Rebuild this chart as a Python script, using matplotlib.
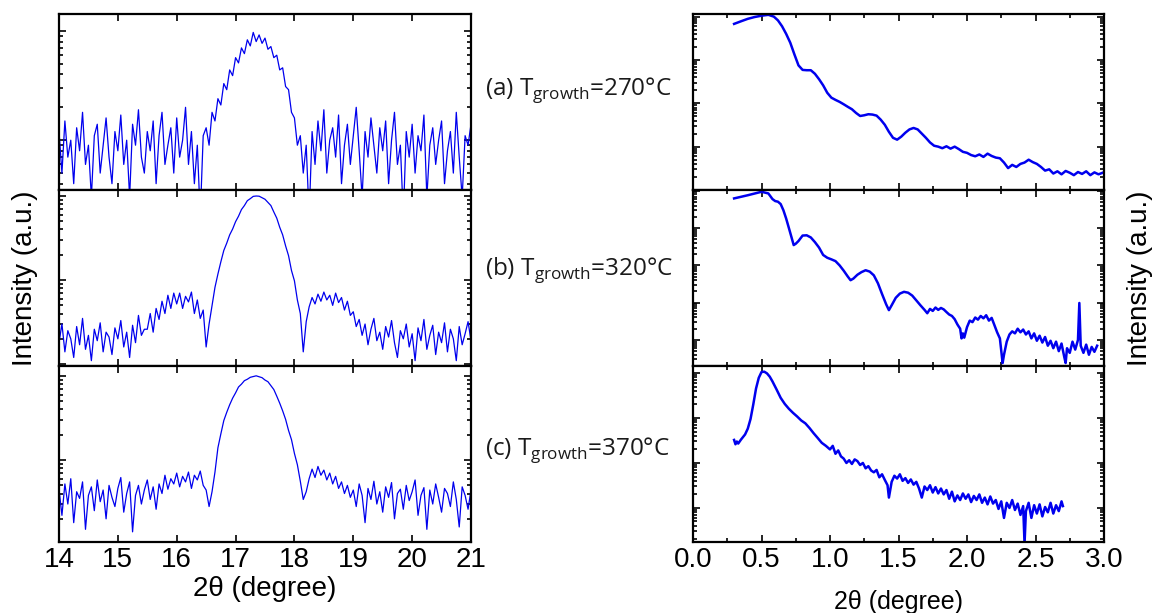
import numpy as np
import matplotlib
matplotlib.use("Agg")
import matplotlib.pyplot as plt
from matplotlib.ticker import LogLocator, NullFormatter, MultipleLocator

# ---- wide-angle scans (14-21 deg, step 0.05) ----
wide_a = [12, 5, 15, 7, 10, 4, 13, 8, 18, 6, 9, 3, 11, 14, 5, 9, 16, 7, 4, 12,
          8, 17, 6, 10, 3, 14, 9, 19, 7, 5, 12, 8, 15, 4, 11, 18, 6, 9, 13, 5,
          16, 7, 10, 20, 6, 12, 4, 9, 2, 11,
          13, 9, 18, 15, 24, 21, 33, 29, 44, 39,
          57, 51, 70, 62, 83, 73, 97, 80, 92, 77,
          86, 68, 72, 57, 60, 44, 46, 31, 29, 18,
          16, 9, 11, 5, 9, 2, 12, 6, 15, 8,
          19, 5, 10, 13, 7, 17, 4, 9, 14, 6, 11, 20, 8, 3, 12, 7, 16, 9, 5, 13,
          8, 15, 4, 10, 18, 6, 9, 2, 12, 7, 14, 5, 11, 8, 17, 3, 9, 13, 6, 10,
          15, 4, 8, 12, 5, 18, 7, 3, 11, 9, 14]

wide_b = [18, 30, 14, 25, 20, 12, 28, 17, 35, 15, 22, 11, 26, 19, 31, 14, 24, 21, 13, 27,
          20, 33, 16, 24, 12, 29, 18, 38, 22, 26,
          26, 40, 24, 46, 34, 56, 40, 66, 46, 70,
          52, 70, 46, 64, 55, 72, 40, 58, 35, 44,
          16, 30, 50, 82, 118, 165, 225, 275, 345, 405,
          495, 575, 690, 770, 880, 930, 990, 1000, 995, 955,
          915, 840, 770, 645, 545, 425, 345, 255, 195, 130,
          98, 58, 40, 14, 32, 48, 62, 52, 68, 56,
          72, 58, 66, 50, 70, 54, 62, 44, 56, 38,
          42, 28, 34, 22, 30, 17, 26, 35, 19, 24,
          15, 28, 21, 33, 18, 12, 25, 20, 30, 16, 23, 11, 27, 19, 34, 15, 22, 29, 13, 24,
          18, 31, 14, 26, 20, 11, 28, 17, 23, 32, 19]

wide_c = [45, 22, 52, 30, 60, 18, 42, 35, 55, 15, 38, 48, 25, 58, 32, 44, 20, 50, 36, 28,
          46, 62, 24, 40, 55, 14, 38, 50, 30, 44, 58, 34, 48, 26, 52, 40, 66, 45, 60, 52,
          70, 48, 64, 55, 72, 46, 66, 58, 74, 50,
          44, 28, 42, 72, 140, 205, 295, 370, 455, 545,
          630, 740, 800, 880, 915, 965, 985, 1005, 980, 955,
          895, 855, 770, 690, 575, 475, 385, 305, 225, 175,
          120, 88, 56, 34, 42, 60, 78, 62, 84, 66,
          76, 58, 70, 52, 64, 46, 55, 40, 50, 36,
          44, 28, 52, 38, 18, 46, 34, 56, 30, 42, 24, 48, 36, 54, 20, 40, 45, 26, 50, 33,
          42, 58, 22, 38, 47, 15, 44, 30, 52, 36, 24, 46, 40, 28, 55, 34, 16, 48, 38, 26, 44]

# ---- low-angle reflectivity scans ----
low_a_x = [0.30, 0.35, 0.40, 0.45, 0.50, 0.55, 0.59, 0.62, 0.65, 0.68, 0.71, 0.74, 0.77,
           0.80, 0.83, 0.86, 0.89, 0.92, 0.95, 0.98, 1.01, 1.04, 1.07, 1.10, 1.13, 1.16,
           1.19, 1.22, 1.25, 1.28, 1.31, 1.34, 1.37, 1.40, 1.43, 1.46, 1.49, 1.52, 1.55,
           1.58, 1.61, 1.64, 1.67, 1.70, 1.73, 1.76, 1.79, 1.82, 1.85, 1.88, 1.91, 1.94,
           1.97, 2.00, 2.03, 2.06, 2.09, 2.12, 2.15, 2.18, 2.21, 2.24, 2.27, 2.30, 2.33,
           2.36, 2.39, 2.42, 2.45, 2.48, 2.51, 2.54, 2.57, 2.60, 2.63, 2.66, 2.69, 2.72,
           2.75, 2.78, 2.81, 2.84, 2.87, 2.90, 2.93, 2.96, 2.99]
low_a_y = [6.8e5, 7.8e5, 8.9e5, 9.8e5, 1.05e6, 1.1e6, 1.0e6, 8.2e5, 6.0e5, 4.0e5, 2.5e5,
           1.35e5, 7.5e4, 5.9e4, 5.8e4, 5.8e4, 4.8e4, 3.6e4, 2.6e4, 1.75e4, 1.35e4, 1.2e4,
           1.08e4, 9.5e3, 8.3e3, 7.3e3, 6.0e3, 5.1e3, 5.3e3, 5.6e3, 5.5e3, 5.2e3, 4.2e3,
           3.2e3, 2.2e3, 1.6e3, 1.45e3, 1.7e3, 2.1e3, 2.5e3, 2.7e3, 2.5e3, 2.0e3, 1.6e3,
           1.25e3, 1.05e3, 1.0e3, 920, 1020, 900, 1000, 880, 760, 720, 640, 600, 660, 580,
           690, 610, 560, 540, 430, 320, 380, 340, 400, 430, 500, 440, 400, 340, 280, 300,
           240, 270, 230, 275, 250, 220, 260, 235, 270, 220, 255, 230, 250]

low_b_x = [0.30, 0.40, 0.50, 0.55, 0.58, 0.60, 0.62, 0.64, 0.66, 0.68, 0.70, 0.72, 0.735,
           0.75, 0.77, 0.80, 0.83, 0.86, 0.89, 0.92, 0.95, 0.98, 1.01, 1.04, 1.07, 1.10,
           1.13, 1.15, 1.17, 1.20, 1.23, 1.26, 1.29, 1.32, 1.35, 1.38, 1.41, 1.43, 1.45,
           1.48, 1.51, 1.54, 1.57, 1.60, 1.63, 1.66, 1.69, 1.71, 1.73, 1.75, 1.77, 1.79,
           1.81, 1.83, 1.85, 1.87, 1.89, 1.91, 1.93, 1.95, 1.96, 1.97, 1.98, 2.00, 2.02,
           2.04, 2.06, 2.08, 2.10, 2.12, 2.14, 2.16, 2.18, 2.20, 2.22, 2.24, 2.26, 2.27,
           2.29, 2.31, 2.33, 2.35, 2.37, 2.39, 2.41, 2.43, 2.45, 2.47, 2.49, 2.51, 2.53,
           2.55, 2.57, 2.59, 2.61, 2.63, 2.65, 2.67, 2.69, 2.71, 2.72, 2.73, 2.75, 2.77,
           2.79, 2.81, 2.82, 2.83, 2.85, 2.87, 2.89, 2.91, 2.93, 2.95]
low_b_y = [6.25e5, 7.6e5, 9.4e5, 8.5e5, 6.0e5, 5.3e5, 5.1e5, 4.4e5, 3.0e5, 1.8e5, 1.0e5,
           5.5e4, 3.5e4, 3.8e4, 4.5e4, 6.3e4, 6.4e4, 5.6e4, 4.2e4, 3.0e4, 1.9e4, 1.6e4,
           1.45e4, 1.3e4, 1.0e4, 7.2e3, 5.0e3, 4.0e3, 4.4e3, 5.6e3, 6.6e3, 7.4e3, 6.8e3,
           5.4e3, 3.3e3, 1.7e3, 900, 630, 850, 1350, 1750, 1950, 1850, 1550, 1150, 850,
           640, 520, 680, 600, 740, 640, 720, 660, 560, 480, 440, 360, 260, 200, 110, 150,
           115, 220, 330, 300, 400, 350, 440, 380, 460, 330, 390, 250, 160, 110, 24, 40,
           90, 140, 170, 150, 200, 160, 190, 140, 170, 110, 150, 95, 130, 85, 120, 70, 95,
           60, 90, 50, 80, 35, 24, 60, 45, 90, 55, 100, 980, 70, 45, 75, 40, 65, 48, 70]

low_c_x = [0.30, 0.31, 0.32, 0.33, 0.35, 0.38, 0.40, 0.42, 0.44, 0.46, 0.48, 0.50, 0.52,
           0.54, 0.56, 0.58, 0.61, 0.64, 0.67, 0.70, 0.73, 0.76, 0.79, 0.82, 0.85, 0.88,
           0.91, 0.94, 0.97, 1.00, 1.02, 1.04, 1.06, 1.08, 1.10, 1.12, 1.14, 1.16, 1.18,
           1.20, 1.22, 1.24, 1.26, 1.28, 1.30, 1.32, 1.34, 1.36, 1.38, 1.40, 1.42, 1.43,
           1.45, 1.47, 1.49, 1.51, 1.53, 1.55, 1.57, 1.59, 1.61, 1.63, 1.65, 1.67, 1.69,
           1.71, 1.73, 1.75, 1.77, 1.79, 1.81, 1.83, 1.85, 1.87, 1.89, 1.91, 1.93, 1.95,
           1.97, 1.99, 2.01, 2.03, 2.05, 2.07, 2.09, 2.11, 2.13, 2.15, 2.17, 2.19, 2.21,
           2.23, 2.25, 2.27, 2.29, 2.31, 2.33, 2.35, 2.37, 2.39, 2.41, 2.42, 2.43, 2.45,
           2.47, 2.49, 2.51, 2.53, 2.55, 2.57, 2.59, 2.61, 2.63, 2.65, 2.67, 2.69, 2.70]
low_c_y = [3.25e3, 2.6e3, 3.0e3, 2.7e3, 3.3e3, 4.3e3, 5.8e3, 9.5e3, 2.0e4, 4.5e4, 7.8e4,
           1.05e5, 1.07e5, 9.8e4, 8.3e4, 6.5e4, 4.3e4, 2.8e4, 2.05e4, 1.6e4, 1.3e4, 1.08e4,
           8.8e3, 7.6e3, 6.0e3, 4.6e3, 3.6e3, 2.8e3, 2.4e3, 2.0e3, 2.4e3, 1.6e3, 1.9e3,
           1.4e3, 1.25e3, 1.0e3, 1.15e3, 950, 1200, 1100, 900, 1000, 760, 850, 680, 620,
           700, 480, 560, 420, 320, 170, 380, 520, 450, 560, 400, 460, 360, 430, 330, 380,
           270, 170, 300, 250, 320, 220, 290, 210, 270, 200, 250, 160, 230, 140, 190, 150,
           210, 160, 200, 135, 185, 150, 200, 130, 170, 120, 180, 125, 150, 95, 140, 60,
           130, 100, 150, 90, 125, 70, 110, 16, 85, 130, 60, 115, 75, 120, 65, 105, 80,
           130, 75, 115, 85, 140, 110]

labels = [r"(a) T$_\mathregular{growth}$=270°C",
          r"(b) T$_\mathregular{growth}$=320°C",
          r"(c) T$_\mathregular{growth}$=370°C"]

wide_ylims = [(3.5, 143), (9.5, 1179), (10.6, 1315)]
low_ylims = [(100, 1.15e6), (20, 1.05e6), (17.5, 1.43e5)]

plt.rcParams["font.family"] = ["Liberation Sans", "DejaVu Sans"]
plt.rcParams["mathtext.fontset"] = "custom"
plt.rcParams["mathtext.rm"] = "Open Sans"

fig = plt.figure(figsize=(11.56, 6.13), dpi=100)
W, H = 1156.0, 613.0
rows = [14, 190, 366, 542]
blue = "#0000ee"


def style(ax, ylim, xlim):
    ax.set_yscale("log")
    ax.set_ylim(*ylim)
    ax.set_xlim(*xlim)
    ax.yaxis.set_major_locator(LogLocator(base=10, numticks=20))
    ax.yaxis.set_minor_locator(LogLocator(base=10, subs=np.arange(2, 10), numticks=100))
    ax.yaxis.set_major_formatter(NullFormatter())
    ax.yaxis.set_minor_formatter(NullFormatter())
    ax.tick_params(which="both", direction="in", top=True, right=True,
                   labelsize=20, width=1.2)
    ax.tick_params(which="major", length=5)
    ax.tick_params(which="minor", length=3)
    for s in ax.spines.values():
        s.set_linewidth(1.6)


wide_data = [wide_a, wide_b, wide_c]
low_data = [(low_a_x, low_a_y), (low_b_x, low_b_y), (low_c_x, low_c_y)]

for i in range(3):
    y0 = 1 - rows[i + 1] / H
    h = (rows[i + 1] - rows[i]) / H
    # left column
    axl = fig.add_axes([59 / W, y0, (471 - 59) / W, h])
    xw = np.linspace(14, 21, len(wide_data[i]))
    axl.plot(xw, wide_data[i], color=blue, lw=0.9)
    style(axl, wide_ylims[i], (14, 21))
    axl.xaxis.set_major_locator(MultipleLocator(1))
    # right column
    axr = fig.add_axes([693 / W, y0, (1104 - 693) / W, h])
    axr.plot(low_data[i][0], low_data[i][1], color=blue, lw=1.8)
    style(axr, low_ylims[i], (0, 3))
    axr.xaxis.set_major_locator(MultipleLocator(0.5))
    axr.xaxis.set_minor_locator(MultipleLocator(0.25))
    axr.xaxis.set_major_formatter(plt.FormatStrFormatter("%.1f"))
    if i < 2:
        axl.tick_params(labelbottom=False)
        axr.tick_params(labelbottom=False)
    else:
        axl.set_xlabel("2θ (degree)", fontsize=20, labelpad=2)
        axr.set_xlabel("2θ (degree)", fontsize=18, labelpad=12)
    fig.text(485 / W, 1 - (90 + 180 * i) / H, labels[i], fontsize=17.5,
             family="Open Sans", ha="left", va="center", color="#1a1a1a")

fig.text(25 / W, 1 - 278 / H, "Intensity (a.u.)", rotation=90, fontsize=20,
         ha="center", va="center")
fig.text(1140 / W, 1 - 278 / H, "Intensity (a.u.)", rotation=90, fontsize=20,
         ha="center", va="center")

fig.savefig("out.png", dpi=100)
